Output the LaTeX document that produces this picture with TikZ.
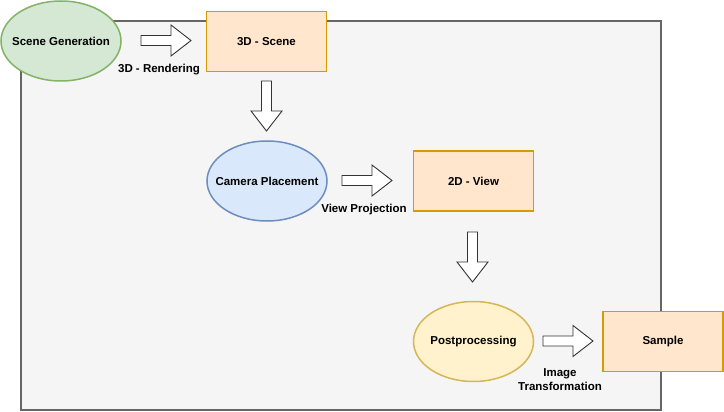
\documentclass[tikz,border=0pt]{standalone}
\usepackage{fontspec}
\setmainfont{Liberation Sans}
\usetikzlibrary{shapes.geometric}
\definecolor{bgfill}{HTML}{F5F5F5}
\definecolor{bgline}{HTML}{666666}
\definecolor{greenfill}{HTML}{D5E8D4}
\definecolor{greenline}{HTML}{82B366}
\definecolor{bluefill}{HTML}{DAE8FC}
\definecolor{blueline}{HTML}{6C8EBF}
\definecolor{yellowfill}{HTML}{FFF2CC}
\definecolor{yellowline}{HTML}{D6B656}
\definecolor{orangefill}{HTML}{FFE6CC}
\definecolor{orangeline}{HTML}{D79B00}
\newcommand{\zw}[1]{\makebox[0pt][c]{#1}}
\tikzset{
  txt/.style={font=\fontsize{11.5}{13.5}\selectfont\bfseries, text=black},
  ell/.style={ellipse, txt, minimum width=120pt, minimum height=80pt, inner sep=0pt, line width=1.5pt},
  greenell/.style={ell, draw=greenline, fill=greenfill},
  blueell/.style={ell, draw=blueline, fill=bluefill},
  yellowell/.style={ell, draw=yellowline, fill=yellowfill},
  orangebox/.style={rectangle, txt, draw=orangeline, fill=orangefill, line width=1.8pt, minimum width=120pt, minimum height=60pt, inner sep=0pt},
  lbl/.style={txt, inner sep=0pt, align=center},
  barrow/.pic={\draw[line width=0.9pt, draw=black!80, fill=white, line join=miter]
     (0,-5) -- (30,-5) -- (30,-15.5) -- (50,0) -- (30,15.5) -- (30,5) -- (0,5) -- cycle;}
}
\begin{document}
\begin{tikzpicture}[x=1pt, y=-1pt]
\useasboundingbox (0,0) rectangle (724,412);
\draw[line width=1.5pt, draw=bgline, fill=bgfill] (21,21) rectangle (661,410);

\node[greenell] (scene) at (61,41) {\zw{Scene Generation}};
\node[orangebox] (scene3d) at (266.5,41.5) {3D - Scene};
\node[blueell] (camera) at (267,181) {\zw{Camera Placement}};
\node[orangebox] (view2d) at (473.5,181) {2D - View};
\node[yellowell] (post) at (473.5,341.5) {\zw{Postprocessing}};
\node[orangebox] (sample) at (663,341.5) {Sample};

\pic at (141,40.5) {barrow};
\pic[rotate=-90] at (266.5,81) {barrow};
\pic at (342,180.5) {barrow};
\pic[rotate=-90] at (472.5,232) {barrow};
\pic at (543,341) {barrow};

\node[lbl] (lrender) at (159,70) {3D - Rendering};
\node[lbl] (lproj) at (364,210) {View Projection};
\node[lbl, font=\fontsize{11.5}{14}\selectfont\bfseries] (ltrans) at (560,380) {Image\\Transformation};
\end{tikzpicture}
\end{document}
